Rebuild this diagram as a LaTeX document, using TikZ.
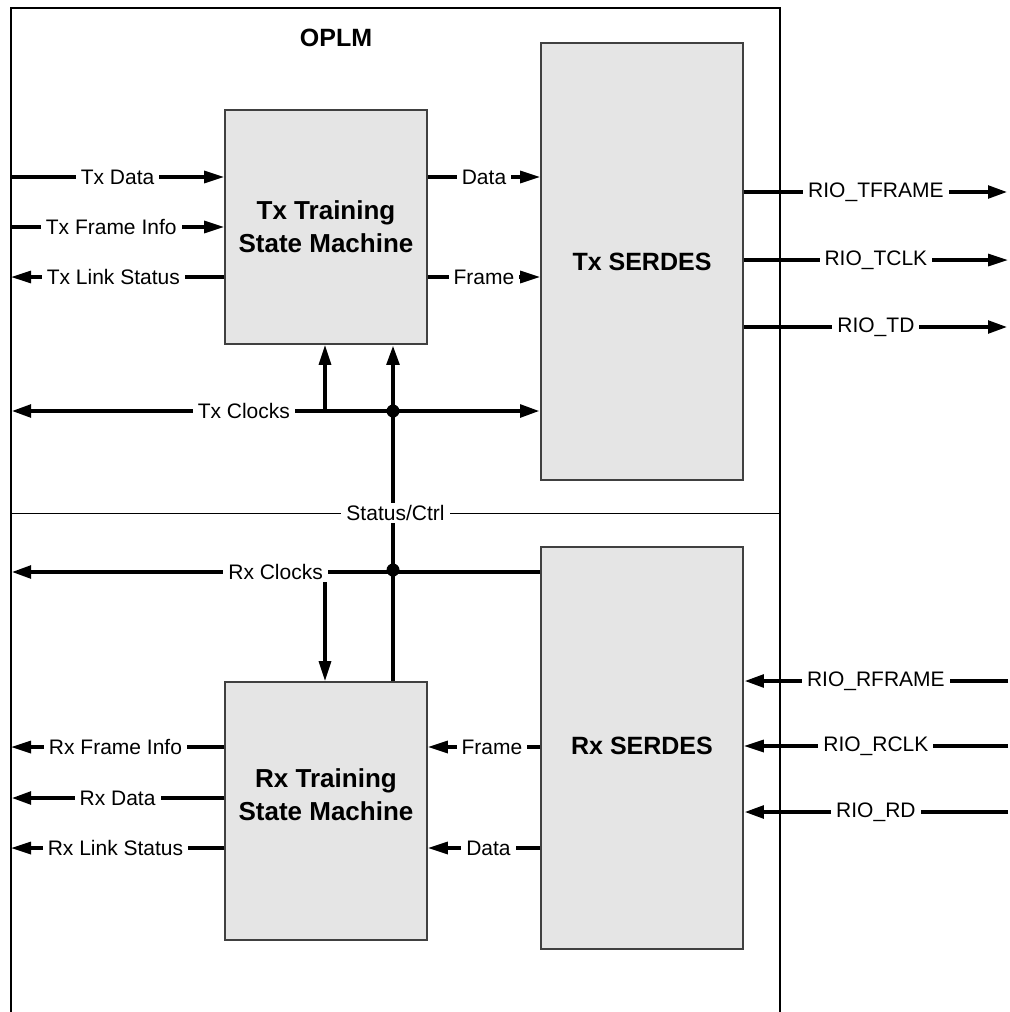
\documentclass[tikz,border=0pt]{standalone}
\usepackage{fontspec}
\setmainfont{Liberation Sans}
\usetikzlibrary{arrows.meta}

\begin{document}
\begin{tikzpicture}[x=0.5pt,y=-0.5pt,
    >={Triangle[length=10pt,width=6pt]},
    sig/.style={line width=1.6pt},
    bus/.style={line width=2.4pt},
    lbl/.style={fill=white,inner xsep=2.5pt,inner ysep=1pt,font=\fontsize{10.5}{12}\selectfont},
    blk/.style={draw=black!75,fill=black!10,line width=0.8pt,minimum width=101pt,inner sep=0pt},
    ttl/.style={align=center,font=\fontsize{13}{16.5}\selectfont\bfseries},
    dot/.style={circle,fill,inner sep=0pt,minimum size=6.5pt}]
      \useasboundingbox (0,0) rectangle (1010,1012);

      \node[blk,minimum height=117pt] (txsm) at (326,227) {};
      \node[ttl] (txsmtxt) at (326,227) {Tx Training\\State Machine};
      \node[blk,minimum height=218.5pt] (txser) at (642,261.5) {};
      \node[ttl,font=\fontsize{12.5}{15}\selectfont\bfseries] (txsertxt) at (642,262) {Tx SERDES};
      \node[blk,minimum height=201pt] (rxser) at (642,748) {};
      \node[ttl,font=\fontsize{12.5}{15}\selectfont\bfseries] (rxsertxt) at (642,746) {Rx SERDES};
      \node[blk,minimum height=129pt] (rxsm) at (326,811) {};
      \node[ttl] (rxsmtxt) at (326,795) {Rx Training\\State Machine};

      \draw[line width=1pt] (11,1012) -- (11,8) -- (780,8) -- (780,1012);
      \node[font=\fontsize{12.5}{15}\selectfont\bfseries] (oplm) at (336,38) {OPLM};

      \coordinate (txck) at (325,411);
      \coordinate (rxck) at (325,572);
      \coordinate (st) at (393,513);
      \node[dot] (jtx) at (393,411) {};
      \node[dot] (jrx) at (393,570) {};

      \draw[sig,->] (txck) -- (txck |- txsm.south);
      \draw[sig,->] (rxck) -- (rxck |- rxsm.north);
      \draw[bus,->] (st |- rxsm.north) -- (st |- txsm.south);
      \draw[line width=0.5pt] (11,513) -- node[lbl] {Status/Ctrl} (780,513);

      \draw[bus,<->] (11,411) -- node[lbl,pos=.44] {Tx Clocks} (txser.west |- txck);
      \draw[bus,->] (rxser.west |- rxck) -- node[lbl] {Rx Clocks} (11,572);

      \draw[sig,->] (11,177) -- node[lbl] {Tx Data} (txsm.west |- 0,177);
      \draw[sig,->] (11,227) -- node[lbl,pos=.47] {Tx Frame Info} (txsm.west |- 0,227);
      \draw[sig,<-] (11,277) -- node[lbl,pos=.48] {Tx Link Status} (txsm.west |- 0,277);
      \draw[sig,->] (txsm.east |- 0,177) -- node[lbl] {Data} (txser.west |- 0,177);
      \draw[sig,->] (txsm.east |- 0,277) -- node[lbl] {Frame} (txser.west |- 0,277);

      \draw[bus,->] (txser.east |- 0,192) -- node[lbl] {RIO\_TFRAME} (1008,192);
      \draw[sig,->] (txser.east |- 0,260) -- node[lbl] {RIO\_TCLK} (1008,260);
      \draw[bus,->] (txser.east |- 0,327) -- node[lbl] {RIO\_TD} (1008,327);

      \draw[bus,->] (1008,681) -- node[lbl] {RIO\_RFRAME} (rxser.east |- 0,681);
      \draw[sig,->] (1008,746) -- node[lbl] {RIO\_RCLK} (rxser.east |- 0,746);
      \draw[bus,->] (1008,812) -- node[lbl] {RIO\_RD} (rxser.east |- 0,812);

      \draw[sig,->] (rxser.west |- 0,747) -- node[lbl,pos=.43] {Frame} (rxsm.east |- 0,747);
      \draw[sig,->] (rxser.west |- 0,848) -- node[lbl,pos=.46] {Data} (rxsm.east |- 0,848);
      \draw[sig,->] (rxsm.west |- 0,747) -- node[lbl,pos=.51] {Rx Frame Info} (11,747);
      \draw[bus,->] (rxsm.west |- 0,798) -- node[lbl] {Rx Data} (11,798);
      \draw[sig,->] (rxsm.west |- 0,848) -- node[lbl,pos=.51] {Rx Link Status} (11,848);
    \end{tikzpicture}
\end{document}
